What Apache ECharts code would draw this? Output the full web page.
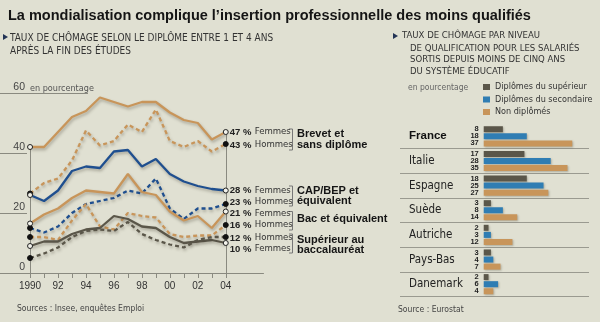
<!DOCTYPE html>
<html><head><meta charset="utf-8">
<script src="https://cdn.jsdelivr.net/npm/echarts@6/dist/echarts.min.js"></script>
<style>html,body{margin:0;padding:0;background:#e0e0d2}#c{width:600px;height:322px}</style>
</head><body><div id="c"></div>
<script>
// ---- Line chart data (taux de chômage selon le diplôme, %) ----
const years = [1990,1991,1992,1993,1994,1995,1996,1997,1998,1999,2000,2001,2002,2003,2004];
const yearTicks = [1990,1992,1994,1996,1998,2000,2002,2004];
const yTicks = [0,20,40,60];
const brevetF = [42,42,47,52,54,58.5,57,55.5,57,57,53.5,51,50,44.5,47];
const brevetH = [26.5,30,31.5,37.5,47.5,42.5,44,49.5,47,54.5,44,42,44,40.5,43];
const capF = [26,24,27.5,34,35.5,35,40.5,41,35.5,38,33,30.5,29,28,27.5];
const capH = [15,13.5,15.5,20,23,24,25,27.5,26.5,31.5,21.5,18,21.5,21.5,23];
const bacF = [16.5,19.5,21.5,25,27.5,27,26.5,33,27,26,20.5,17.5,19,15,20.5];
const bacH = [12,12,11,17.5,23,15.5,14.5,20,19,18.5,13,12,12.5,12.5,16];
const supF = [9,10.5,10.5,13,14.5,15,19,18,15.5,15,12,10,10.5,11,10];
const supH = [5,6.5,8.5,12,14,14.5,14,17,13,11,9.5,8.5,11,12,12];

// ---- Bar chart data (par niveau de qualification, %) ----
const countries = ['France','Italie','Espagne','Suède','Autriche','Pays-Bas','Danemark'];
const supBar = [8,17,18,3,2,3,2];
const secBar = [18,28,25,8,3,4,6];
const nonBar = [37,35,27,14,12,7,4];

const NARROW = "'Liberation Sans Narrow','DejaVu Sans Condensed','Liberation Sans',sans-serif";
const SANS = "'Liberation Sans',Arial,sans-serif";
const TAN = '#c8955a', BLUE = '#1f4f8f', GRAY = '#5a5649';

function mk(vals, femme){
  const last = years.length - 1;
  return years.map((y,i)=>{
    const it = {value:[y, vals[i]]};
    if(i===0 || i===last){
      it.symbol = 'circle'; it.symbolSize = 5;
      it.itemStyle = femme ? {color:'#f2f2ea', borderColor:'#222', borderWidth:1}
                           : {color:'#111', borderColor:'#111', borderWidth:1};
    } else { it.symbol = 'none'; }
    return it;
  });
}
const shadow = {shadowColor:'rgba(60,55,40,0.35)', shadowBlur:3, shadowOffsetX:1, shadowOffsetY:2};
function lineSeries(name, vals, color, dashed, femme, dy){
  return {
    type:'line', name, xAxisIndex:0, yAxisIndex:0, data: mk(vals, femme),
    lineStyle: Object.assign({color, width:2.3, type: dashed ? [4,3] : 'solid'}, shadow),
    itemStyle:{color}, z: 3,
    endLabel:{show:true, distance:4, offset:[0,dy],
      formatter: p => '{v|' + Math.round(p.value[1]) + ' %}{g|' + (femme ? 'Femmes' : 'Hommes') + '}',
      rich:{ v:{fontFamily:SANS, fontWeight:'bold', fontSize:9.5, color:'#222', width:25},
             g:{fontFamily:NARROW, fontSize:9.5, color:'#333'} } }
  };
}

const series = [
  lineSeries('brevetF', brevetF, TAN, false, true, 0),
  lineSeries('brevetH', brevetH, TAN, true, false, 1),
  lineSeries('capF', capF, BLUE, false, true, 0),
  lineSeries('capH', capH, BLUE, true, false, -2),
  lineSeries('bacF', bacF, TAN, false, true, 2),
  lineSeries('bacH', bacH, TAN, true, false, 0),
  lineSeries('supF', supF, GRAY, false, true, 6),
  lineSeries('supH', supH, GRAY, true, false, 1)
];
series[0].markLine = {symbol:'none', silent:true, z:1,
  lineStyle:{color:'#8a8a80', width:1, type:'solid', shadowBlur:0}, label:{show:false},
  data:[[{coord:[years[0],0]},{coord:[years[0],brevetF[0]]}],
        [{coord:[years[years.length-1],0]},{coord:[years[years.length-1],brevetF[brevetF.length-1]]}]]};

const barLabel = {show:true, position:'left', distance:5, fontFamily:SANS, fontWeight:'bold', fontSize:7.5, color:'#222'};
const barShadow = {shadowColor:'rgba(60,55,40,0.3)', shadowBlur:2, shadowOffsetX:1, shadowOffsetY:1};
series.push(
  {type:'bar', name:'Diplômes du supérieur', xAxisIndex:1, yAxisIndex:2, data:supBar, barWidth:6, barGap:'18%',
   itemStyle:Object.assign({color:GRAY}, barShadow), label:barLabel},
  {type:'bar', name:'Diplômes du secondaire', xAxisIndex:1, yAxisIndex:2, data:secBar, barWidth:6, barGap:'18%',
   itemStyle:Object.assign({color:'#2f7db3'}, barShadow), label:barLabel},
  {type:'bar', name:'Non diplômés', xAxisIndex:1, yAxisIndex:2, data:nonBar, barWidth:6, barGap:'18%',
   itemStyle:Object.assign({color:'#c8955a'}, barShadow), label:barLabel}
);

const chart = echarts.init(document.getElementById('c'), null, {renderer:'canvas'});
chart.setOption({
  backgroundColor:'#e0e0d2',
  animation:false,
  grid:[
    {left:0, right:336.5, top:87, bottom:49},
    {left:400, right:11, top:124, height:172.5}
  ],
  xAxis:[
    {type:'value', gridIndex:0, min:1987.85, max:2006.7,
     axisLine:{show:true, onZero:false, lineStyle:{color:'#8a8a80', width:1}},
     axisTick:{show:true, length:5, customValues:years, lineStyle:{color:'#8a8a80'}},
     axisLabel:{customValues:yearTicks, margin:8, fontFamily:SANS, fontSize:10, color:'#333',
       formatter: v => v===1990 ? '1990' : String(v).slice(2)},
     splitLine:{show:false}},
    {type:'value', gridIndex:1, min:-35, max:44, show:false}
  ],
  yAxis:[
    {type:'value', gridIndex:0, position:'left', min:0, max:62,
     axisLine:{show:false},
     axisTick:{show:true, inside:true, length:27, customValues:[20,40], lineStyle:{color:'#8a8a80'}},
     axisLabel:{show:true, inside:true, customValues:yTicks, align:'right', margin:25, verticalAlign:'bottom',
       lineHeight:11, fontFamily:SANS, fontSize:10.5, color:'#444'},
     splitLine:{show:false}},
    {type:'value', gridIndex:0, position:'left', offset:0, min:0, max:62, axisLine:{show:false}, axisLabel:{show:false}, splitLine:{show:false},
     axisTick:{show:true, inside:true, length:88, customValues:[60], lineStyle:{color:'#8a8a80'}}},
    {type:'category', gridIndex:1, data:countries, inverse:true,
     axisLine:{show:false}, axisTick:{show:false},
     splitLine:{show:true, interval:0, showMinLine:false, lineStyle:{color:'#9a9a90', width:1}},
     axisLabel:{inside:true, interval:0, margin:9, fontFamily:NARROW, fontSize:11.5, color:'#222',
       formatter: v => v==='France' ? '{b|'+v+'}' : v,
       rich:{b:{fontFamily:SANS, fontWeight:'bold', fontSize:11.5, color:'#111'}}}}
  ],
  legend:{show:true, orient:'vertical', left:483, top:82, itemWidth:7, itemHeight:6, itemGap:2.5, padding:0,
    icon:'rect', data:['Diplômes du supérieur','Diplômes du secondaire','Non diplômés'],
    textStyle:{fontFamily:NARROW, fontSize:9, color:'#333', lineHeight:10}},
  series,
  graphic:[
    {type:'text', left:8, top:8, style:{text:'La mondialisation complique l’insertion professionnelle des moins qualifiés',
      font:"bold 14.5px 'Liberation Sans', Arial, sans-serif", fill:'#151515'}},
    {type:'polygon', shape:{points:[[3,34],[3,40],[8,37]]}, style:{fill:'#223355'}},
    {type:'text', left:10, top:32, style:{text:'TAUX DE CHÔMAGE SELON LE DIPLÔME ENTRE 1 ET 4 ANS\nAPRÈS LA FIN DES ÉTUDES',
      font:"10px "+NARROW, fill:'#333', lineHeight:13}},
    {type:'polygon', shape:{points:[[393,33],[393,39],[398,36]]}, style:{fill:'#223355'}},
    {type:'text', left:402, top:31, style:{text:'TAUX DE CHÔMAGE PAR NIVEAU', font:"9.5px "+NARROW, fill:'#333'}},
    {type:'text', left:410, top:43, style:{text:'DE QUALIFICATION POUR LES SALARIÉS\nSORTIS DEPUIS MOINS DE CINQ ANS\nDU SYSTÈME ÉDUCATIF',
      font:"9.5px "+NARROW, fill:'#333', lineHeight:11.3}},
    {type:'text', left:408, top:83, style:{text:'en pourcentage', font:"8.5px "+NARROW, fill:'#666'}},
    {type:'text', left:30, top:84, style:{text:'en pourcentage', font:"9px "+NARROW, fill:'#555'}},
    {type:'text', left:17, top:304, style:{text:'Sources : Insee, enquêtes Emploi', font:"8.5px "+NARROW, fill:'#444'}},
    {type:'text', left:398, top:305, style:{text:'Source : Eurostat', font:"8.5px "+NARROW, fill:'#444'}},
    // group labels & brackets
    {type:'polyline', shape:{points:[[289,129],[292.5,129],[292.5,150],[289,150]]}, style:{stroke:'#777', lineWidth:1, fill:null}},
    {type:'polyline', shape:{points:[[289,186],[292.5,186],[292.5,206],[289,206]]}, style:{stroke:'#777', lineWidth:1, fill:null}},
    {type:'polyline', shape:{points:[[289,211.5],[292.5,211.5],[292.5,230],[289,230]]}, style:{stroke:'#777', lineWidth:1, fill:null}},
    {type:'polyline', shape:{points:[[289,234],[292.5,234],[292.5,253],[289,253]]}, style:{stroke:'#777', lineWidth:1, fill:null}},
    {type:'text', left:297, top:128, style:{text:'Brevet et\nsans diplôme', font:"bold 11px "+SANS, fill:'#151515', lineHeight:11.5}},
    {type:'text', left:297, top:185, style:{text:'CAP/BEP et\néquivalent', font:"bold 11px "+SANS, fill:'#151515', lineHeight:10.5}},
    {type:'text', left:297, top:213, style:{text:'Bac et équivalent', font:"bold 11px "+SANS, fill:'#151515'}},
    {type:'text', left:297, top:234, style:{text:'Supérieur au\nbaccalauréat', font:"bold 11px "+SANS, fill:'#151515', lineHeight:10.5}}
  ]
});
</script></body></html>
